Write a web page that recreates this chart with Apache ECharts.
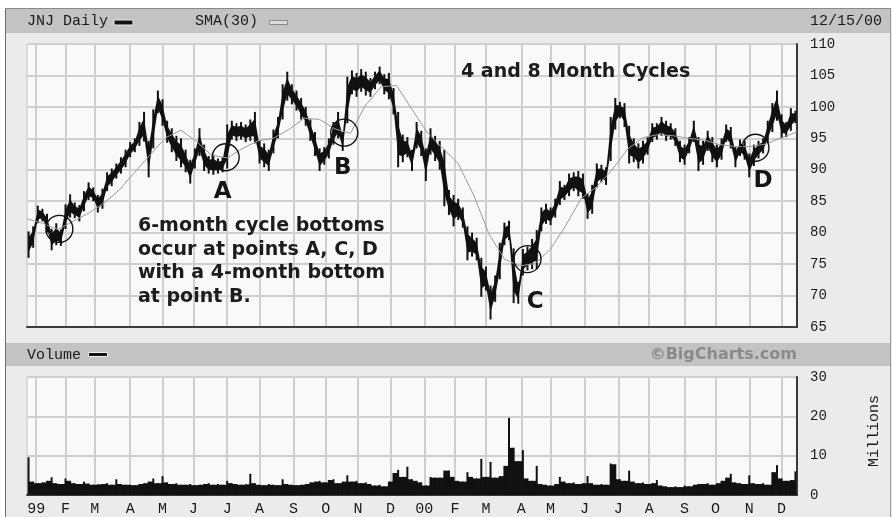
<!DOCTYPE html>
<html>
<head>
<meta charset="utf-8">
<script src="https://cdn.jsdelivr.net/npm/echarts/dist/echarts.min.js"></script>
<style>
  html, body { margin: 0; padding: 0; background: #fff; }
  #chart { width: 892px; height: 517px; }
</style>
</head>
<body>
<div id="chart"></div>
<script>
// ================= trading calendar =================
const startDate = '1998-12-23'
const endDate = '2000-12-15'
const holidays = ['1998-12-25', '1999-01-01', '1999-01-18', '1999-02-15', '1999-04-02', '1999-05-31',
  '1999-07-05', '1999-09-06', '1999-11-25', '1999-12-24', '2000-01-17', '2000-02-21', '2000-04-21',
  '2000-05-29', '2000-07-04', '2000-09-04', '2000-11-23']
// one label per month start, January shows the year
const xTickLabels = ['99', 'F', 'M', 'A', 'M', 'J', 'J', 'A', 'S', 'O', 'N', 'D',
  '00', 'F', 'M', 'A', 'M', 'J', 'J', 'A', 'S', 'O', 'N', 'D']

// ================= price (one sample = 3 trading days) =================
const sampleStep = 3
const priceLow = [
  76.0, 77.6, 81.5, 81.8, 80.0, 77.2, 78.0, 77.9, 80.6, 82.4,
  82.3, 81.8, 83.4, 85.2, 85.0, 83.2, 83.8, 86.6, 87.4, 88.6,
  89.4, 90.4, 92.0, 92.8, 93.8, 94.5, 88.8, 93.4, 99.0, 97.0,
  94.3, 92.8, 91.4, 90.4, 89.6, 87.8, 90.2, 92.2, 89.8, 89.4,
  89.2, 89.4, 89.6, 90.2, 94.8, 94.6, 94.8, 94.4, 94.6, 94.2,
  91.0, 90.4, 89.8, 92.6, 95.0, 98.0, 101.0, 100.4, 99.4, 98.0,
  97.0, 94.6, 92.2, 89.8, 90.8, 91.8, 94.0, 95.0, 93.0, 97.4,
  102.0, 101.6, 102.4, 101.8, 101.6, 102.8, 103.6, 102.0, 101.2, 98.8,
  90.4, 91.2, 92.0, 89.8, 93.4, 92.2, 88.2, 92.4, 91.4, 90.0,
  84.2, 82.8, 81.0, 82.0, 80.8, 75.6, 76.2, 75.6, 69.8, 70.8,
  66.2, 69.0, 72.6, 78.0, 78.8, 68.8, 68.7, 73.2, 74.0, 74.2,
  74.2, 80.2, 81.4, 81.2, 82.4, 84.4, 85.2, 85.8, 86.6, 85.8,
  85.4, 82.2, 83.0, 87.2, 88.0, 87.6, 91.4, 96.4, 98.2, 96.8,
  91.0, 91.2, 90.2, 91.0, 92.4, 94.4, 94.8, 95.4, 94.6, 94.8,
  93.8, 91.2, 90.8, 92.6, 94.4, 89.8, 90.8, 93.0, 91.2, 90.4,
  91.6, 94.4, 93.4, 90.4, 92.2, 91.6, 88.8, 90.6, 91.8, 92.6,
  94.2, 96.0, 97.8, 95.0, 95.2, 96.2, 97.4
]
const priceHigh = [
  80.2, 81.0, 84.3, 83.8, 83.0, 80.6, 81.5, 80.5, 84.5, 86.1,
  84.8, 84.4, 86.6, 88.0, 87.2, 86.0, 87.0, 89.6, 90.2, 91.0,
  92.0, 93.2, 94.4, 95.0, 97.6, 99.2, 94.6, 99.6, 102.6, 101.2,
  97.8, 96.6, 95.4, 95.0, 93.2, 91.6, 93.4, 96.6, 94.0, 92.2,
  92.4, 91.8, 92.0, 97.2, 97.8, 97.4, 97.6, 97.2, 98.0, 99.2,
  94.6, 94.2, 93.2, 96.4, 98.4, 103.6, 105.6, 103.6, 102.6, 101.4,
  100.0, 98.0, 96.0, 93.4, 93.6, 95.0, 97.6, 99.2, 96.0, 104.8,
  105.8, 105.4, 106.0, 105.6, 104.6, 105.6, 106.4, 105.2, 105.4, 103.0,
  99.2, 95.6, 95.2, 93.2, 97.6, 96.2, 93.4, 96.6, 95.4, 94.6,
  93.2, 86.8, 86.0, 85.4, 84.0, 81.0, 80.0, 79.2, 76.0, 74.6,
  71.6, 73.2, 78.4, 81.6, 81.9, 77.5, 72.2, 77.4, 77.8, 79.0,
  80.4, 84.0, 84.6, 84.0, 85.4, 88.2, 87.6, 89.4, 89.6, 89.8,
  89.4, 86.2, 87.6, 91.0, 90.8, 90.4, 98.4, 101.4, 100.8, 100.6,
  97.0, 95.0, 94.2, 94.6, 95.2, 97.4, 97.4, 98.4, 97.8, 97.4,
  96.6, 94.6, 94.0, 95.2, 97.8, 95.2, 94.6, 96.2, 95.2, 94.0,
  95.0, 97.2, 96.8, 93.6, 94.8, 94.6, 92.6, 94.0, 94.6, 95.0,
  97.8, 100.6, 102.6, 98.8, 97.6, 99.8, 99.4
]
// volume in millions, same sampling
const volume = [
  9.6, 3.4, 3.0, 3.2, 3.6, 4.5, 3.0, 2.8, 4.2, 3.6,
  3.0, 2.8, 3.4, 2.9, 2.6, 2.7, 2.8, 3.0, 2.6, 4.0,
  2.8, 2.6, 2.6, 2.5, 2.8, 3.0, 3.4, 4.2, 3.0, 4.8,
  3.2, 2.8, 3.0, 2.6, 2.6, 2.8, 2.5, 2.6, 2.8, 3.0,
  2.6, 2.8, 2.6, 3.6, 3.0, 2.8, 2.6, 2.7, 5.4, 3.0,
  2.6, 2.5, 2.8, 2.6, 2.5, 4.0, 2.8, 2.6, 2.5, 2.6,
  2.8, 3.2, 3.4, 3.6, 3.2, 3.8, 4.0, 3.0, 3.4, 5.0,
  3.4, 3.6, 3.0, 3.2, 2.8, 2.4, 2.6, 2.2, 3.4, 5.6,
  6.4, 4.6, 7.2, 4.0, 3.6, 3.2, 2.4, 4.6, 4.4, 4.4,
  6.2, 6.2, 4.6, 3.6, 3.4, 5.8, 4.6, 4.2, 9.2, 4.6,
  8.4, 4.4, 4.8, 7.4, 19.6, 12.0, 8.6, 11.4, 4.2, 3.6,
  7.4, 2.8, 2.6, 2.4, 2.8, 4.6, 3.4, 3.0, 3.2, 2.8,
  3.0, 4.8, 3.0, 2.6, 2.8, 2.6, 8.0, 7.8, 4.0, 3.6,
  6.2, 3.4, 3.0, 3.2, 2.8, 3.0, 3.8, 2.4, 2.2, 2.0,
  2.2, 2.0, 2.4, 2.2, 2.6, 2.8, 2.8, 3.0, 2.6, 3.0,
  3.6, 4.4, 5.4, 3.2, 3.0, 2.8, 5.0, 3.0, 2.8, 3.0,
  2.6, 5.8, 7.6, 4.2, 3.6, 3.8, 6.0
]
// 30-day SMA, one value every 10 trading days
const smaStep = 10
const smaValues = [
  82.2, 81.5, 80.5, 81.8, 83.1, 84.7, 86.8, 89.6, 92.4, 95.1,
  96.3, 94.5, 92.3, 91.9, 93.4, 94.6, 95.0, 96.4, 98.2, 98.0,
  96.5, 95.8, 100.3, 103.2, 103.4, 99.6, 95.9, 93.4, 91.0, 86.0,
  79.8, 75.8, 74.7, 75.1, 77.4, 81.2, 85.5, 87.3, 90.0, 93.3,
  95.1, 95.6, 95.4, 95.0, 94.7, 94.0, 93.7, 93.7, 94.1, 95.1, 96.0
]
// annotations: circles and cycle letters at [trading day, price]
const circlePoints = [[21, 80.6], [129, 92.0], [206, 95.9], [325, 75.8], [473, 93.5]]
const cycleLetters = ['A', 'B', 'C', 'D']
const letterPoints = [[127, 86.4], [205, 90.3], [330, 69.0], [478, 88.2]]

// ================= build axis =================
const days = []
const cur = new Date(startDate + 'T00:00:00Z')
const last = new Date(endDate + 'T00:00:00Z')
while (cur <= last) {
  const wd = cur.getUTCDay()
  const s = cur.toISOString().slice(0, 10)
  if (wd !== 0 && wd !== 6 && !holidays.includes(s)) days.push(s)
  cur.setUTCDate(cur.getUTCDate() + 1)
}
const monthStart = {}
let mi = 0
days.forEach((s, i) => {
  if (i > 0 && s.slice(5, 7) !== days[i - 1].slice(5, 7)) monthStart[i] = xTickLabels[mi++]
})
const isMonthStart = (i) => monthStart[i] !== undefined

const priceData = priceLow.map((lo, k) => [k * sampleStep, lo, priceHigh[k]])
const volData = volume.map((v, k) => [k * sampleStep, v])
const smaData = smaValues.map((v, n) => [n * smaStep, v])

const mono = 'Liberation Mono'
const bold = 'DejaVu Sans'
const gridColor = '#cfcfcf'
const ink = '#111'
const mid = Math.floor(sampleStep / 2)

// price: full high-low bar at each sample, joined to the next one by a slimmer band
function priceBand(params, api) {
  const next = priceData[params.dataIndex + 1]
  const top = api.coord([api.value(0) + mid, api.value(2)])
  const bot = api.coord([api.value(0) + mid, api.value(1)])
  const children = [{
    type: 'rect',
    shape: { x: top[0] - 1, y: top[1], width: 2, height: Math.max(bot[1] - top[1], 1) },
    style: { fill: ink },
  }]
  if (next) {
    const top2 = api.coord([next[0] + mid, next[2]])
    const bot2 = api.coord([next[0] + mid, next[1]])
    const inset = (a, b) => [a[0], a[1] + (b[1] - a[1]) * 0.22]
    children.push({
      type: 'polygon',
      shape: { points: [inset(top, bot), inset(top2, bot2), inset(bot2, top2), inset(bot, top)] },
      style: { fill: ink },
    })
  }
  return { type: 'group', children }
}
// volume: thin bar to each sample's value, with a filled block up to the lower neighbour
function volBar(params, api) {
  const next = volData[params.dataIndex + 1]
  const i = api.value(0)
  const v = api.value(1)
  const peak = api.coord([i + mid, v])
  const base = api.coord([i + mid, 0])
  const children = [{
    type: 'rect',
    shape: { x: peak[0] - 1, y: peak[1], width: 2, height: base[1] - peak[1] },
    style: { fill: ink },
  }]
  if (next) {
    const low = Math.min(v, next[1])
    const a = api.coord([i + mid, low])
    const b = api.coord([next[0] + mid, 0])
    children.push({ type: 'rect', shape: { x: a[0], y: a[1], width: b[0] - a[0], height: b[1] - a[1] }, style: { fill: ink } })
  }
  return { type: 'group', children }
}

function xAxisFor(gridIndex, withLabels) {
  return {
    type: 'category',
    gridIndex,
    data: days,
    boundaryGap: false,
    axisLine: { show: true, lineStyle: { color: '#3a3a3a', width: 2 } },
    axisTick: { show: false },
    axisLabel: {
      show: withLabels,
      interval: (i) => isMonthStart(i),
      formatter: (v, i) => monthStart[i] || '',
      margin: 7,
      fontFamily: mono,
      fontSize: 15,
      color: '#1a1a1a',
    },
    splitLine: { show: true, interval: (i) => isMonthStart(i), lineStyle: { color: gridColor, width: 2 } },
  }
}
function yAxisFor(gridIndex, min, max, interval) {
  return {
    type: 'value',
    gridIndex,
    position: 'right',
    min, max, interval,
    axisLine: { show: true, lineStyle: { color: '#3a3a3a', width: 2 } },
    axisTick: { show: false },
    axisLabel: { margin: 13, fontFamily: mono, fontSize: 14, color: '#1a1a1a' },
    splitLine: { show: true, lineStyle: { color: gridColor, width: 2 } },
  }
}

const chart = echarts.init(document.getElementById('chart'))
chart.setOption({
  animation: false,
  backgroundColor: '#ebebeb',
  grid: [
    { left: 27, right: 95, top: 44, height: 283, show: true, backgroundColor: '#f9f9f9', borderColor: '#c4c4c4', borderWidth: 1 },
    { left: 27, right: 95, top: 377, height: 118, show: true, backgroundColor: '#f9f9f9', borderColor: '#c4c4c4', borderWidth: 1 },
  ],
  xAxis: [xAxisFor(0, false), xAxisFor(1, true)],
  yAxis: [yAxisFor(0, 65, 110, 5), yAxisFor(1, 0, 30, 10)],
  series: [
    { type: 'custom', name: 'JNJ Daily', xAxisIndex: 0, yAxisIndex: 0, renderItem: priceBand, data: priceData, clip: true, z: 3 },
    {
      type: 'line', name: 'SMA(30)', xAxisIndex: 0, yAxisIndex: 0, data: smaData,
      showSymbol: false, lineStyle: { color: '#9c9c9c', width: 1 }, z: 4,
    },
    {
      type: 'scatter', xAxisIndex: 0, yAxisIndex: 0, data: circlePoints, symbol: 'circle', symbolSize: 27,
      itemStyle: { color: 'rgba(0,0,0,0)', borderColor: ink, borderWidth: 1.4, opacity: 1 }, z: 5,
    },
    {
      type: 'scatter', xAxisIndex: 0, yAxisIndex: 0, symbolSize: 1,
      data: letterPoints.map((p, n) => ({ name: cycleLetters[n], value: p })),
      itemStyle: { color: 'rgba(0,0,0,0)', opacity: 1 },
      label: { show: true, position: 'inside', formatter: (p) => p.name, fontFamily: bold, fontWeight: 'bold', fontSize: 23, color: '#151515' },
      z: 6,
    },
    { type: 'custom', name: 'Volume', xAxisIndex: 1, yAxisIndex: 1, renderItem: volBar, data: volData, clip: true, z: 3 },
  ],
  graphic: [
    // frame and header bands
    { type: 'rect', shape: { x: 0, y: 0, width: 892, height: 8 }, style: { fill: '#fff' } },
    { type: 'rect', shape: { x: 0, y: 0, width: 5, height: 517 }, style: { fill: '#fff' } },
    { type: 'line', shape: { x1: 5.5, y1: 8, x2: 5.5, y2: 517 }, style: { stroke: '#6e6e6e', lineWidth: 1 } },
    { type: 'line', shape: { x1: 5, y1: 8.5, x2: 891, y2: 8.5 }, style: { stroke: '#8a8a8a', lineWidth: 1 } },
    { type: 'line', shape: { x1: 890.5, y1: 8, x2: 890.5, y2: 517 }, style: { stroke: '#9a9a9a', lineWidth: 1 } },
    { type: 'rect', shape: { x: 6, y: 9, width: 884, height: 24 }, style: { fill: '#c3c3c3' } },
    { type: 'rect', shape: { x: 6, y: 343, width: 884, height: 23 }, style: { fill: '#c3c3c3' } },
    // legends
    { type: 'text', x: 27, y: 21, style: { text: 'JNJ Daily', fontFamily: mono, fontSize: 15, fill: '#1a1a1a', textVerticalAlign: 'middle' } },
    { type: 'rect', shape: { x: 114, y: 20, width: 19, height: 5 }, style: { fill: ink, stroke: '#eee', lineWidth: 1 } },
    { type: 'text', x: 195, y: 21, style: { text: 'SMA(30)', fontFamily: mono, fontSize: 15, fill: '#1a1a1a', textVerticalAlign: 'middle' } },
    { type: 'rect', shape: { x: 269.5, y: 20.5, width: 18, height: 4 }, style: { fill: '#dedede', stroke: '#8a8a8a', lineWidth: 1 } },
    { type: 'text', x: 810, y: 21, style: { text: '12/15/00', fontFamily: mono, fontSize: 15, fill: '#1a1a1a', textVerticalAlign: 'middle' } },
    { type: 'text', x: 27, y: 355, style: { text: 'Volume', fontFamily: mono, fontSize: 15, fill: '#1a1a1a', textVerticalAlign: 'middle' } },
    { type: 'rect', shape: { x: 88.5, y: 352.5, width: 19, height: 4 }, style: { fill: ink, stroke: '#eee', lineWidth: 1 } },
    { type: 'text', x: 797, y: 355, style: { text: '©BigCharts.com', fontFamily: bold, fontWeight: 'bold', fontSize: 16, fill: '#8a8a8a', textAlign: 'right', textVerticalAlign: 'middle' } },
    { type: 'text', x: 874, y: 431, rotation: Math.PI / 2, style: { text: 'Millions', fontFamily: mono, fontSize: 15, fill: '#1a1a1a', textAlign: 'center', textVerticalAlign: 'middle' } },
    // annotation texts
    { type: 'text', x: 461, y: 72, z: 100, style: { text: '4 and 8 Month Cycles', fontFamily: bold, fontWeight: 'bold', fontSize: 19, fill: '#1c1c1c', textVerticalAlign: 'middle' } },
    { type: 'text', x: 138, y: 226.4, z: 100, style: { text: '6-month cycle bottoms', fontFamily: bold, fontWeight: 'bold', fontSize: 19, fill: '#1c1c1c', textVerticalAlign: 'middle' } },
    { type: 'text', x: 138, y: 249.9, z: 100, style: { text: 'occur at points A, C, D', fontFamily: bold, fontWeight: 'bold', fontSize: 19, fill: '#1c1c1c', textVerticalAlign: 'middle' } },
    { type: 'text', x: 138, y: 273.4, z: 100, style: { text: 'with a 4-month bottom', fontFamily: bold, fontWeight: 'bold', fontSize: 19, fill: '#1c1c1c', textVerticalAlign: 'middle' } },
    { type: 'text', x: 138, y: 296.9, z: 100, style: { text: 'at point B.', fontFamily: bold, fontWeight: 'bold', fontSize: 19, fill: '#1c1c1c', textVerticalAlign: 'middle' } },
  ],
})
</script>
</body>
</html>
